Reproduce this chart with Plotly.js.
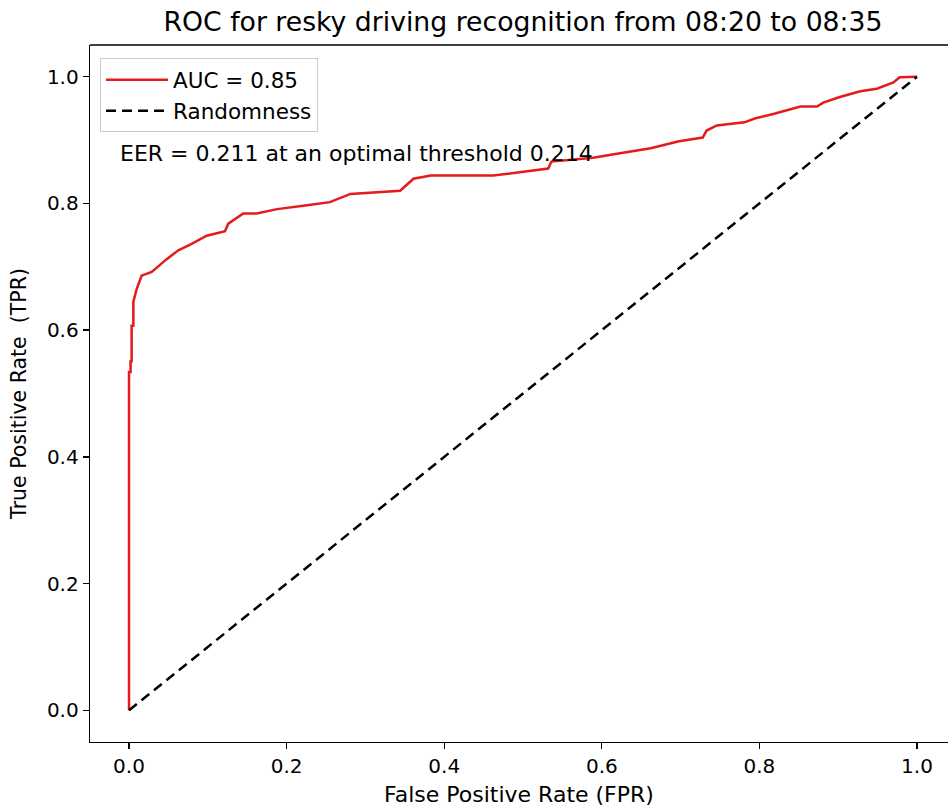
<!DOCTYPE html>
<html>
<head>
<meta charset="utf-8">
<script src="https://cdn.plot.ly/plotly-3.0.1.min.js"></script>
<style>html,body{margin:0;padding:0;background:#fff;}#chart{width:948px;height:809px;}</style>
</head>
<body>
<div id="chart"></div>
<script>
const fpr = [0, 0, 0.002, 0.002, 0.0033, 0.0033, 0.0055, 0.0055, 0.0098, 0.016, 0.0288, 0.0478, 0.0626, 0.0795, 0.0986, 0.1218, 0.126, 0.145, 0.162, 0.188, 0.226, 0.255, 0.281, 0.344, 0.361, 0.383, 0.462, 0.497, 0.532, 0.536, 0.589, 0.623, 0.662, 0.698, 0.728, 0.733, 0.746, 0.781, 0.794, 0.82, 0.852, 0.873, 0.881, 0.902, 0.928, 0.949, 0.970, 0.978, 0.991, 1.0];
const tpr = [0, 0.534, 0.534, 0.551, 0.551, 0.607, 0.607, 0.645, 0.665, 0.686, 0.692, 0.712, 0.726, 0.736, 0.749, 0.756, 0.768, 0.784, 0.784, 0.791, 0.797, 0.802, 0.815, 0.820, 0.839, 0.844, 0.844, 0.849, 0.855, 0.866, 0.872, 0.879, 0.887, 0.898, 0.904, 0.915, 0.923, 0.928, 0.934, 0.942, 0.953, 0.953, 0.959, 0.968, 0.977, 0.981, 0.991, 0.999, 1.0, 1.0];
const randX = [0, 1];
const randY = [0, 1];
const tickVals = [0, 0.2, 0.4, 0.6, 0.8, 1.0];
const tickText = ["0.0", "0.2", "0.4", "0.6", "0.8", "1.0"];
const aucLabel = "AUC = 0.85";
const randLabel = "Randomness";
const eerText = "EER = 0.211 at an optimal threshold 0.214";
const eerPos = [-0.014, 0.879];

const F = "DejaVu Sans, sans-serif";
const traces = [
  {x: fpr, y: tpr, mode: "lines", name: aucLabel, line: {color: "rgb(228,26,28)", width: 2.5}},
  {x: randX, y: randY, mode: "lines", name: randLabel, line: {color: "#000", width: 2.5, dash: "10px,6px"}}
];
const layout = {
  width: 948, height: 809,
  margin: {l: 90, r: 0, t: 45, b: 67, pad: 0},
  paper_bgcolor: "#fff", plot_bgcolor: "#fff",
  font: {family: F, size: 20, color: "#000"},
  title: {text: "ROC for resky driving recognition from 08:20 to 08:35", font: {family: F, size: 26.7, color: "#000"},
          xref: "paper", x: 0.5047, xanchor: "center", yref: "container", y: 1 - 22/809, yanchor: "middle"},
  xaxis: {range: [-0.0495, 1.0393], tickvals: tickVals, ticktext: tickText, ticks: "outside", ticklen: 6, tickwidth: 1.3,
          tickcolor: "#000", showline: true, linecolor: "#000", linewidth: 1.3, showgrid: false, zeroline: false,
          tickfont: {family: F, size: 20, color: "#000"},
          title: {text: "False Positive Rate (FPR)", font: {family: F, size: 22, color: "#000"}, standoff: 9}},
  yaxis: {range: [-0.05, 1.05], tickvals: tickVals, ticktext: tickText, ticks: "outside", ticklen: 6, tickwidth: 1.3,
          tickcolor: "#000", showline: true, linecolor: "#000", linewidth: 1.3, showgrid: false, zeroline: false,
          tickfont: {family: F, size: 20, color: "#000"},
          title: {text: "True Positive Rate \u00a0(TPR)", font: {family: F, size: 20.5, color: "#000"}, standoff: 14}},
  showlegend: true,
  legend: {x: 0.0117, y: 0.981, xanchor: "left", yanchor: "top", bgcolor: "rgba(255,255,255,0.8)",
           bordercolor: "#cccccc", borderwidth: 1, font: {family: F, size: 21.5, color: "#000"}, tracegroupgap: 0,
           itemwidth: 62},
  shapes: [{type: "line", xref: "paper", yref: "paper", x0: 0, x1: 1, y0: 1, y1: 1, line: {color: "#000", width: 1.3}}],
  annotations: [{x: eerPos[0], y: eerPos[1], xref: "x", yref: "y", text: eerText, showarrow: false,
                 xanchor: "left", yanchor: "middle", font: {family: F, size: 22, color: "#000"}}]
};
Plotly.newPlot("chart", traces, layout, {displayModeBar: false, staticPlot: true});
</script>
</body>
</html>
